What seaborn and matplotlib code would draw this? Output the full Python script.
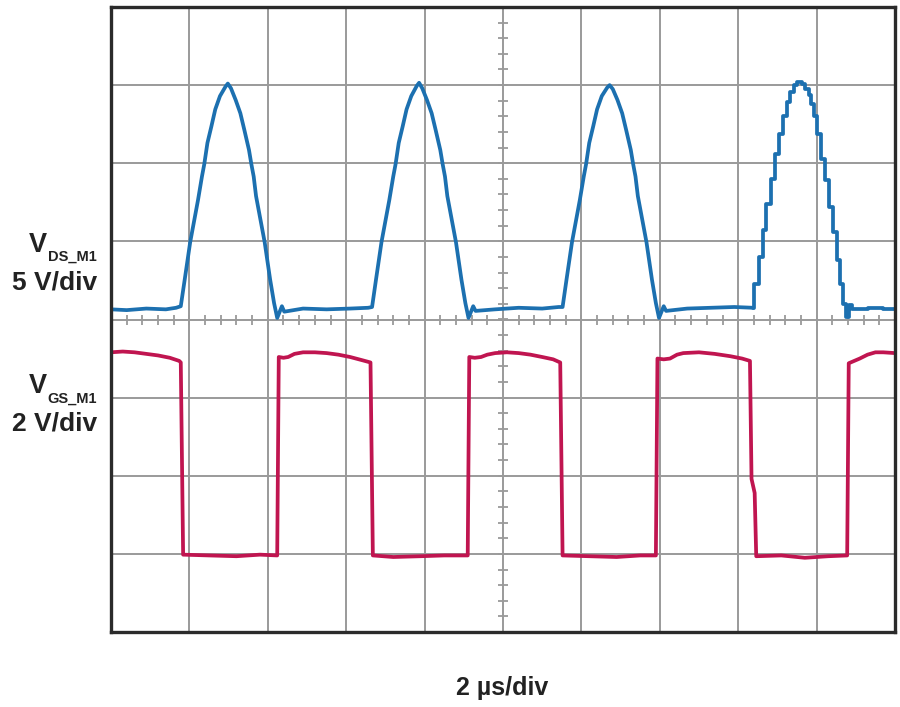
#!/usr/bin/env python3
"""
Scope capture: VDS and VGS of M1, redrawn as a chart.
Usage: python plot.py
"""
import numpy as np
import pandas as pd
import matplotlib
matplotlib.use("Agg")
import matplotlib.pyplot as plt
import seaborn as sns

# ----------------------------------------------------------------------
# Data (divisions: x 0..10, y -4..4)
# ----------------------------------------------------------------------
# V_DS trace, first three (smooth) pulses
vds_t = [0.00, 0.20, 0.45, 0.70, 0.83,
         0.89, 0.94, 1.01, 1.11, 1.16, 1.19, 1.23, 1.28, 1.33, 1.39, 1.46, 1.49, 1.53,
         1.59, 1.65, 1.70, 1.76, 1.79, 1.82, 1.85, 1.96, 2.03, 2.08, 2.12, 2.18, 2.21,
         2.45, 2.75, 3.05, 3.28,
         3.33, 3.38, 3.45, 3.55, 3.60, 3.63, 3.67, 3.72, 3.77, 3.83, 3.90, 3.93, 3.97,
         4.03, 4.09, 4.14, 4.20, 4.23, 4.26, 4.29, 4.40, 4.47, 4.52, 4.56, 4.62, 4.65,
         4.90, 5.20, 5.50, 5.71,
         5.76, 5.81, 5.88, 5.98, 6.03, 6.06, 6.10, 6.15, 6.20, 6.26, 6.33, 6.36, 6.40,
         6.46, 6.52, 6.57, 6.63, 6.66, 6.69, 6.72, 6.83, 6.90, 6.95, 6.99, 7.05, 7.08,
         7.35, 7.65, 7.95, 8.19]
vds_v = [0.13, 0.12, 0.14, 0.13, 0.15,
         0.17, 0.51, 0.99, 1.53, 1.83, 1.99, 2.26, 2.47, 2.69, 2.86, 2.98, 3.02, 2.96,
         2.81, 2.64, 2.43, 2.17, 1.99, 1.83, 1.58, 0.99, 0.51, 0.21, 0.02, 0.17, 0.10,
         0.14, 0.13, 0.14, 0.15,
         0.16, 0.51, 0.99, 1.53, 1.83, 1.99, 2.26, 2.47, 2.69, 2.86, 2.99, 3.03, 2.96,
         2.81, 2.64, 2.43, 2.17, 1.99, 1.83, 1.58, 0.99, 0.51, 0.21, 0.02, 0.17, 0.11,
         0.13, 0.15, 0.14, 0.16,
         0.16, 0.51, 0.99, 1.53, 1.83, 1.99, 2.26, 2.47, 2.69, 2.86, 2.97, 3.00, 2.95,
         2.81, 2.64, 2.43, 2.17, 1.99, 1.83, 1.58, 0.99, 0.51, 0.21, 0.02, 0.17, 0.11,
         0.14, 0.15, 0.16, 0.15]

# V_DS trace, fourth pulse (coarsely sampled, staircase)
vds4_t = [8.19, 8.20, 8.26, 8.31, 8.36, 8.42, 8.47, 8.52, 8.57, 8.62, 8.66, 8.71,
          8.75, 8.81, 8.85, 8.90, 8.93, 8.97, 9.01, 9.05, 9.11, 9.16, 9.21, 9.26,
          9.30, 9.34, 9.38, 9.41, 9.45, 9.65, 9.85, 10.0]
vds4_v = [0.15, 0.46, 0.80, 1.14, 1.48, 1.80, 2.12, 2.38, 2.61, 2.78, 2.91, 3.00,
          3.04, 3.02, 2.95, 2.87, 2.76, 2.61, 2.38, 2.06, 1.78, 1.44, 1.12, 0.76,
          0.46, 0.20, 0.03, 0.18, 0.13, 0.15, 0.13, 0.14]

# V_GS trace
vgs_t = [0.00, 0.15, 0.30, 0.45, 0.60, 0.75, 0.87, 0.89, 0.92, 1.25, 1.60, 1.90, 2.12,
         2.14, 2.20, 2.26, 2.34, 2.45, 2.60, 2.75, 2.90, 3.05, 3.20, 3.31, 3.34,
         3.60, 3.95, 4.25, 4.55,
         4.57, 4.64, 4.72, 4.80, 4.90, 5.05, 5.20, 5.35, 5.50, 5.64, 5.73, 5.76,
         6.10, 6.45, 6.75, 6.95,
         6.97, 7.05, 7.13, 7.22, 7.30, 7.50, 7.70, 7.90, 8.05, 8.15, 8.17, 8.21, 8.23,
         8.55, 8.85, 9.15, 9.39,
         9.41, 9.48, 9.55, 9.65, 9.75, 9.85, 10.0]
vgs_v = [-0.42, -0.41, -0.42, -0.44, -0.46, -0.49, -0.53, -0.55, -3.01, -3.02, -3.03, -3.01, -3.02,
         -0.48, -0.49, -0.48, -0.44, -0.42, -0.42, -0.43, -0.45, -0.48, -0.52, -0.55, -3.02,
         -3.04, -3.03, -3.02, -3.02,
         -0.48, -0.49, -0.48, -0.45, -0.43, -0.42, -0.43, -0.45, -0.48, -0.51, -0.55, -3.02,
         -3.03, -3.04, -3.02, -3.02,
         -0.50, -0.51, -0.50, -0.45, -0.43, -0.42, -0.44, -0.47, -0.50, -0.53, -2.04, -2.22, -3.03,
         -3.02, -3.05, -3.03, -3.02,
         -0.56, -0.53, -0.50, -0.45, -0.42, -0.42, -0.43]

vds_color = "#1c70b0"
vgs_color = "#c01550"
grid_color = "#9a9a9a"
text_color = "#222222"

# ----------------------------------------------------------------------
# Figure
# ----------------------------------------------------------------------
sns.set_style("white")
plt.rcParams["font.family"] = ["Liberation Sans", "DejaVu Sans"]
plt.rcParams["font.weight"] = "bold"

W, H = 900, 707
fig = plt.figure(figsize=(W / 100, H / 100), dpi=100)
ax = fig.add_axes([111 / W, 1 - 632 / H, 784 / W, 625 / H])

# major graticule
ax.set_xlim(0, 10)
ax.set_ylim(-4, 4)
ax.set_xticks(range(0, 11))
ax.set_yticks(range(-4, 5))
ax.grid(True, color=grid_color, lw=1.4)
ax.tick_params(length=0, labelbottom=False, labelleft=False)
ax.set_axisbelow(True)
for sp in ax.spines.values():
    sp.set_color("#2b2b2b")
    sp.set_linewidth(2.4)

# minor ticks along the centre lines
minor_x = np.arange(0, 10.001, 0.2)
minor_y = np.arange(-4, 4.001, 0.2)
ax.plot(minor_x, np.zeros_like(minor_x), ls="none", marker="|", ms=7.5, mew=1.3,
        color=grid_color, zorder=1)
ax.plot(np.full_like(minor_y, 5.0), minor_y, ls="none", marker="_", ms=7.5, mew=1.3,
        color=grid_color, zorder=1)

# traces
vds_df = pd.DataFrame({"t": vds_t, "v": vds_v})
vds4_df = pd.DataFrame({"t": vds4_t, "v": vds4_v})
vgs_df = pd.DataFrame({"t": vgs_t, "v": vgs_v})

sns.lineplot(data=vgs_df, x="t", y="v", color=vgs_color, lw=2.7, estimator=None, ax=ax)
sns.lineplot(data=vds_df, x="t", y="v", color=vds_color, lw=2.7, estimator=None, ax=ax)
sns.lineplot(data=vds4_df, x="t", y="v", color=vds_color, lw=2.7, estimator=None,
             drawstyle="steps-post", ax=ax)
ax.set_xlabel("")
ax.set_ylabel("")
ax.set_xlim(0, 10)
ax.set_ylim(-4, 4)

# channel labels
def fy(py):
    return 1 - py / H

for base, sub, scale in [(251.7, "DS_M1", "5 V/div"), (393.4, "GS_M1", "2 V/div")]:
    fig.text(47 / W, fy(base), "V", fontsize=19.5, weight="bold", color=text_color,
             ha="right", va="baseline")
    fig.text(97 / W, fy(base + 9.5), sub, fontsize=10.5, weight="bold", color=text_color,
             ha="right", va="baseline")
    fig.text(97 / W, fy(base + 37.5), scale, fontsize=19, weight="bold", color=text_color,
             ha="right", va="baseline")

fig.text(502 / W, fy(695), "2 µs/div", fontsize=18, weight="bold", color=text_color,
         ha="center", va="baseline")

fig.savefig("out.png", dpi=100)
plt.close(fig)
